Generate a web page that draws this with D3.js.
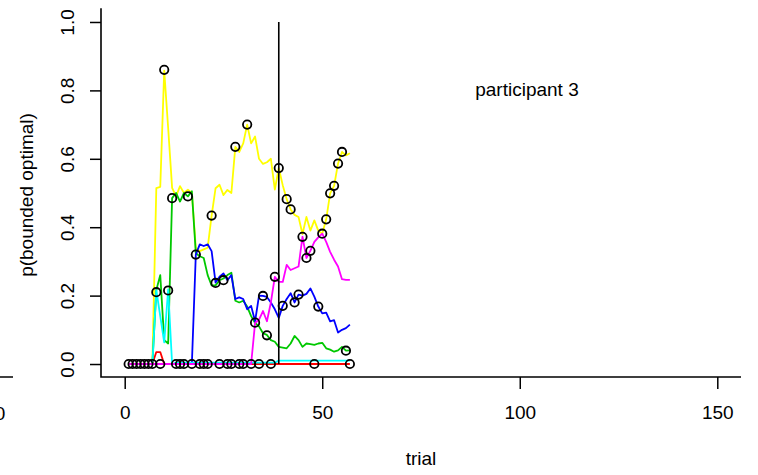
<!DOCTYPE html>
<html>
<head>
<meta charset="utf-8">
<script src="https://cdn.jsdelivr.net/npm/d3@7"></script>
<style>
  html, body { margin: 0; padding: 0; background: #fff; }
  svg { display: block; font-family: "Liberation Sans", Arial, Helvetica, sans-serif; }
</style>
</head>
<body>
<svg id="chart" width="758" height="475"></svg>
<script>
// ---- data ----
const trials = [1,2,3,4,5,6,7,8,9,10,11,12,13,14,15,16,17,18,19,20,21,22,23,24,25,26,27,28,29,30,
  31,32,33,34,35,36,37,38,39,40,41,42,43,44,45,46,47,48,49,50,51,52,53,54,55,56,57];

const yellowSeries = [0,0,0,0,0,0,0,
  0.514,0.518,0.858,0.69,0.515,0.49,0.52,0.50,0.51,0.50,
  0.34,0.33,0.335,0.34,0.434,0.514,0.524,0.494,0.509,0.50,
  0.635,0.62,0.645,0.70,0.645,0.665,0.60,0.585,0.59,0.60,0.51,0.573,
  0.523,0.482,0.452,0.436,0.43,0.38,0.43,0.39,0.42,0.39,0.381,0.423,0.499,0.521,0.586,0.62,0.61,0.616];

const greenSeries = [0,0,0,0,0,0,0,
  0.216,0.26,0.07,0.06,0.485,0.50,0.475,0.50,0.49,0.505,
  0.324,0.315,0.31,0.26,0.23,0.23,0.245,0.25,0.26,0.267,
  0.185,0.18,0.185,0.168,0.14,0.12,0.11,0.09,0.085,0.07,0.065,0.05,
  0.048,0.046,0.06,0.082,0.07,0.05,0.06,0.058,0.056,0.06,0.062,0.046,0.042,0.036,0.04,0.05,0.039,0.04];

const blueSeries = [0,0,0,0,0,0,0,0,0,0,0,0,0,0,0,0,0,
  0.32,0.35,0.345,0.35,0.33,0.238,0.255,0.265,0.245,0.26,
  0.19,0.195,0.19,0.16,0.17,0.125,0.20,0.199,0.196,0.18,0.16,0.135,
  0.17,0.19,0.207,0.18,0.203,0.2,0.205,0.221,0.197,0.168,0.148,0.15,0.125,0.128,0.092,0.1,0.105,0.115];

const cyanSeries = [0,0,0,0,0,0,0,
  0.216,0.14,0.063,0.218,0,
  0.004,0.004,0.004,0.004,0.004,0.004,0.004,0.004,0.004,0.004,0.004,0.004,0.004,
  0.004,0.004,0.004,0.004,0.004,0.004,0.004,0.004,0.004,0.004,0.004,0.004,0.004,
  0.01,0.01,0.01,0.01,0.01,0.01,0.01,0.01,0.01,0.01,0.01,0.01,0.01,0.01,0.01,0.01,0.01,0.01,0.01];

const redSeries = [0,0,0,0,0,0,0,0.035,0.035,0,
  0,0,0,0,0,0,0,0,0,0,0,0,0,0,0,0,0,0,0,0,0,0,0,0,0,0,0,0,0,0,
  0,0,0,0,0,0,0,0,0,0,0,0,0,0,0,0,0];

const magentaSeries = [0,0,0,0,0,0,0,0,0,0,0,0,0,0,0,0,0,0,0,0,0,0,0,0,0,0,0,0,0,0,0,0,
  0.12,0.13,0.155,0.125,0.18,0.255,0.24,0.24,0.29,0.275,0.28,0.285,0.372,0.31,0.331,
  0.357,0.37,0.381,0.357,0.328,0.305,0.285,0.248,0.246,0.246];

// value of the strategy actually chosen on each trial (open circles)
const chosenValues = [0,0,0,0,0,0,0,
  0.21,0,0.86,0.215,0.485,0,0,0,0.49,0,
  0.32,0,0,0,0.434,0.237,0,0.245,0,0,
  0.635,0,0,0.70,0,0.121,0,0.199,0.084,0,0.255,0.573,
  0.17,0.482,0.452,0.18,0.203,0.372,0.31,0.331,0,0.168,0.381,0.423,0.499,0.521,0.586,0.62,0.039,0];

const seriesNames = ["yellow","red","green","blue","cyan","magenta"];
const seriesColors = ["#ffff00","#ff0000","#00c800","#0000ff","#00ffff","#ff00ff"];
const seriesValues = [yellowSeries, redSeries, greenSeries, blueSeries, cyanSeries, magentaSeries];

const xTicks = [0, 50, 100, 150];
const yTicks = [0, 0.2, 0.4, 0.6, 0.8, 1.0];
const switchTrial = 39;
const xLabel = "trial";
const yLabel = "p(bounded optimal)";
const panelTitle = "participant 3";

// ---- drawing ----
const svg = d3.select("#chart");
const plotL = 101, plotR = 741, plotT = 8.3, plotB = 377.7;
const x = d3.scaleLinear().domain([-6, 156]).range([plotL, plotR]);
const y = d3.scaleLinear().domain([-0.04, 1.04]).range([plotB, plotT]);
const FS = 19;

// fragment of the neighbouring panel at far left
svg.append("line").attr("x1", 0).attr("x2", 13).attr("y1", 377).attr("y2", 377)
  .attr("stroke", "#000").attr("stroke-width", 1.5);
svg.append("text").attr("x", 0).attr("y", 420).attr("text-anchor", "middle")
  .attr("font-size", FS).text("0");

// series lines
const line = d3.line().x((d, i) => x(trials[i])).y(d => y(d));
seriesValues.forEach((vals, k) => {
  svg.append("path").datum(vals)
    .attr("class", "series " + seriesNames[k])
    .attr("d", line)
    .attr("fill", "none")
    .attr("stroke", seriesColors[k])
    .attr("stroke-width", 1.8)
    .attr("stroke-linejoin", "round");
});

// vertical marker
svg.append("line")
  .attr("x1", x(switchTrial)).attr("x2", x(switchTrial))
  .attr("y1", y(0)).attr("y2", y(1))
  .attr("stroke", "#000").attr("stroke-width", 1.6);

// chosen-strategy circles
svg.append("g").selectAll("circle").data(chosenValues).join("circle")
  .attr("cx", (d, i) => x(trials[i]))
  .attr("cy", d => y(d))
  .attr("r", 4.2)
  .attr("fill", "none")
  .attr("stroke", "#000")
  .attr("stroke-width", 1.8);

// axes
const gx = svg.append("g").attr("transform", `translate(0,${plotB - 0.7})`)
  .call(d3.axisBottom(x).tickValues(xTicks).tickSize(12).tickPadding(17).tickFormat(d3.format("d")));
gx.select(".domain").remove();
gx.selectAll(".tick line").attr("stroke-width", 1.5);
gx.selectAll(".tick text").attr("font-size", FS).attr("font-family", null).attr("fill", "#000");

const gy = svg.append("g").attr("transform", `translate(${plotL},0)`)
  .call(d3.axisLeft(y).tickValues(yTicks).tickSize(11).tickFormat(d3.format(".1f")));
gy.select(".domain").remove();
gy.selectAll(".tick line").attr("stroke-width", 1.5);
gy.selectAll(".tick text")
  .attr("x", 0).attr("dy", null)
  .attr("text-anchor", "middle")
  .attr("transform", "translate(-27,0) rotate(-90)")
  .attr("font-size", FS).attr("font-family", null).attr("fill", "#000");

// L-shaped box
svg.append("path")
  .attr("d", `M${plotL},${plotT}V${plotB - 0.7}H${plotR}`)
  .attr("fill", "none").attr("stroke", "#000").attr("stroke-width", 1.6);

// labels
svg.append("text").attr("x", 421).attr("y", 465).attr("text-anchor", "middle")
  .attr("font-size", FS).text(xLabel);
svg.append("text").attr("transform", "translate(33,195) rotate(-90)")
  .attr("text-anchor", "middle").attr("font-size", FS).text(yLabel);
svg.append("text").attr("x", 527).attr("y", 96).attr("text-anchor", "middle")
  .attr("font-size", FS).text(panelTitle);
</script>
</body>
</html>
